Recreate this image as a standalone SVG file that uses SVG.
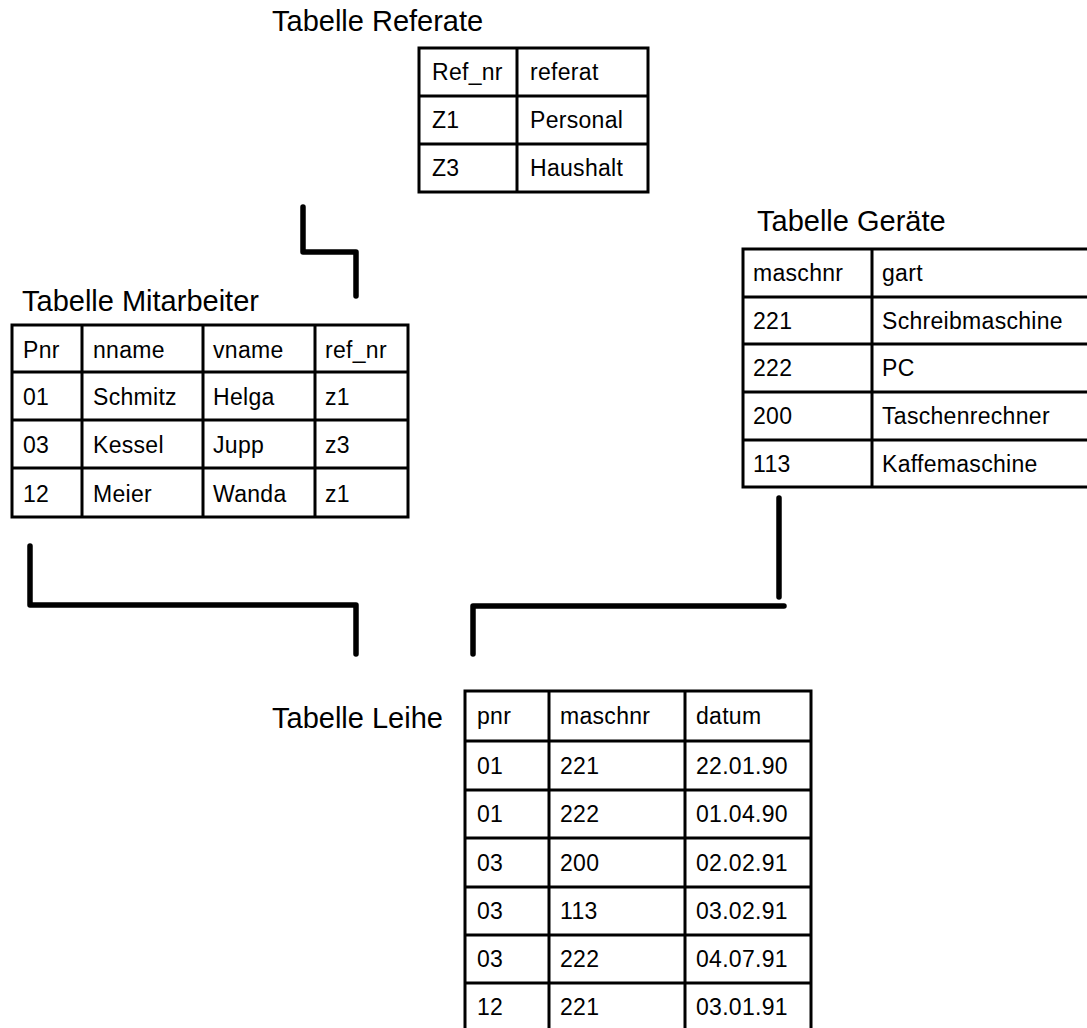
<svg xmlns="http://www.w3.org/2000/svg" width="1087" height="1028" viewBox="0 0 1087 1028">
  <style>
    .title { font-family: "Liberation Sans", Arial, sans-serif; font-size: 29px; fill: #000; }
    .cell { font-family: "Liberation Sans", Arial, sans-serif; font-size: 23px; letter-spacing: 0.3px; fill: #000; }
    .frame { fill: #fff; stroke: #000; stroke-width: 3; }
    .grid { stroke: #000; stroke-width: 3; fill: none; }
    .conn { stroke: #000; stroke-width: 5.5; fill: none; stroke-linecap: round; stroke-linejoin: round; }
  </style>

  <rect width="1087" height="1028" fill="#fff"/>

  <!-- connectors between the tables -->
  <g id="connectors">
    <polyline class="conn" points="303,207 303,252 356,252 356,296"/>
    <polyline class="conn" points="30,546 30,605 356,605 356,654"/>
    <polyline class="conn" points="473,654 473,606 784,606"/>
    <line class="conn" x1="779" y1="498" x2="779" y2="597"/>
  </g>

  <!-- Referate -->
  <g id="tabelle-referate">
    <text class="title" x="272" y="31">Tabelle Referate</text>
    <rect class="frame" x="419" y="48" width="229" height="144"/>
    <path class="grid" d="M517,48 V192 M419,96 H648 M419,144 H648"/>
    <text class="cell" x="432" y="80">Ref_nr</text>
    <text class="cell" x="530" y="80">referat</text>
    <text class="cell" x="432" y="128">Z1</text>
    <text class="cell" x="530" y="128">Personal</text>
    <text class="cell" x="432" y="176">Z3</text>
    <text class="cell" x="530" y="176">Haushalt</text>
  </g>

  <!-- Mitarbeiter -->
  <g id="tabelle-mitarbeiter">
    <text class="title" x="22" y="311">Tabelle Mitarbeiter</text>
    <rect class="frame" x="12" y="325" width="396" height="192"/>
    <path class="grid" d="M82,325 V517 M203,325 V517 M315,325 V517 M12,372 H408 M12,420 H408 M12,468 H408"/>
    <text class="cell" x="23" y="358">Pnr</text>
    <text class="cell" x="93" y="358">nname</text>
    <text class="cell" x="213" y="358">vname</text>
    <text class="cell" x="325" y="358">ref_nr</text>
    <text class="cell" x="23" y="405">01</text>
    <text class="cell" x="93" y="405">Schmitz</text>
    <text class="cell" x="213" y="405">Helga</text>
    <text class="cell" x="325" y="405">z1</text>
    <text class="cell" x="23" y="453">03</text>
    <text class="cell" x="93" y="453">Kessel</text>
    <text class="cell" x="213" y="453">Jupp</text>
    <text class="cell" x="325" y="453">z3</text>
    <text class="cell" x="23" y="502">12</text>
    <text class="cell" x="93" y="502">Meier</text>
    <text class="cell" x="213" y="502">Wanda</text>
    <text class="cell" x="325" y="502">z1</text>
  </g>

  <!-- Geräte -->
  <g id="tabelle-geraete">
    <text class="title" x="757" y="231">Tabelle Geräte</text>
    <rect class="frame" x="743" y="249" width="350" height="238"/>
    <path class="grid" d="M872,249 V487 M743,297 H1093 M743,344 H1093 M743,392 H1093 M743,440 H1093"/>
    <text class="cell" x="753" y="281">maschnr</text>
    <text class="cell" x="882" y="281">gart</text>
    <text class="cell" x="753" y="329">221</text>
    <text class="cell" x="882" y="329">Schreibmaschine</text>
    <text class="cell" x="753" y="376">222</text>
    <text class="cell" x="882" y="376">PC</text>
    <text class="cell" x="753" y="424">200</text>
    <text class="cell" x="882" y="424">Taschenrechner</text>
    <text class="cell" x="753" y="472">113</text>
    <text class="cell" x="882" y="472">Kaffemaschine</text>
  </g>

  <!-- Leihe -->
  <g id="tabelle-leihe">
    <text class="title" x="272" y="728">Tabelle Leihe</text>
    <rect class="frame" x="465" y="691" width="346" height="340"/>
    <path class="grid" d="M549,691 V1031 M685,691 V1031 M465,741 H811 M465,790 H811 M465,838 H811 M465,887 H811 M465,935 H811 M465,983 H811"/>
    <text class="cell" x="477" y="724">pnr</text>
    <text class="cell" x="560" y="724">maschnr</text>
    <text class="cell" x="696" y="724">datum</text>
    <text class="cell" x="477" y="774">01</text>
    <text class="cell" x="560" y="774">221</text>
    <text class="cell" x="696" y="774">22.01.90</text>
    <text class="cell" x="477" y="822">01</text>
    <text class="cell" x="560" y="822">222</text>
    <text class="cell" x="696" y="822">01.04.90</text>
    <text class="cell" x="477" y="871">03</text>
    <text class="cell" x="560" y="871">200</text>
    <text class="cell" x="696" y="871">02.02.91</text>
    <text class="cell" x="477" y="919">03</text>
    <text class="cell" x="560" y="919">113</text>
    <text class="cell" x="696" y="919">03.02.91</text>
    <text class="cell" x="477" y="967">03</text>
    <text class="cell" x="560" y="967">222</text>
    <text class="cell" x="696" y="967">04.07.91</text>
    <text class="cell" x="477" y="1015">12</text>
    <text class="cell" x="560" y="1015">221</text>
    <text class="cell" x="696" y="1015">03.01.91</text>
  </g>
</svg>
